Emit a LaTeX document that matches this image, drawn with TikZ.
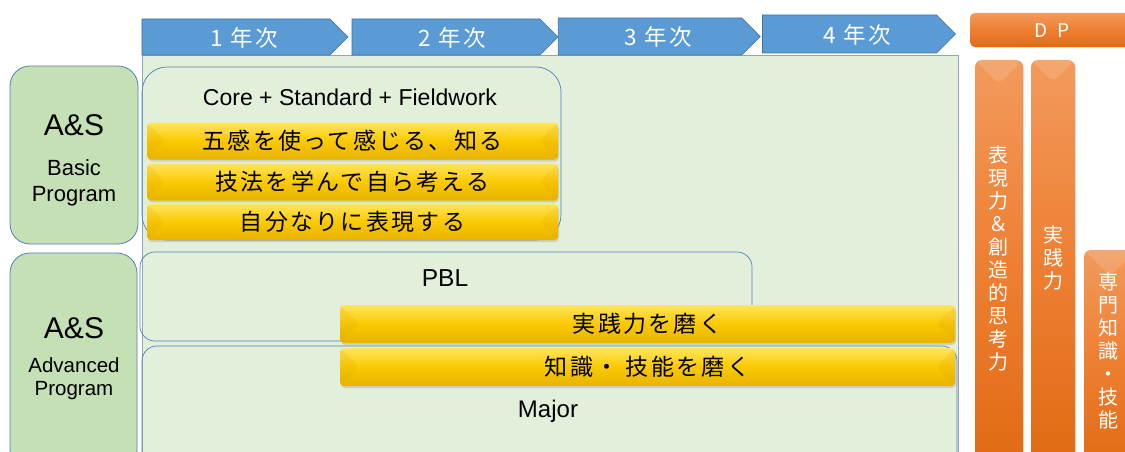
\documentclass[tikz,border=0pt]{standalone}
\usepackage{fontspec}
\setmainfont{Liberation Sans}
\newfontfamily\jp{Noto Sans CJK JP}
\newfontfamily\jpsp{Noto Sans CJK JP}[LetterSpace=10]
\newfontfamily\jpch{Noto Sans CJK JP}[LetterSpace=12]
\newfontfamily\jpwide{Noto Sans CJK JP}[LetterSpace=35]
\usetikzlibrary{shapes.symbols,shadows,calc}
\definecolor{chev}{HTML}{5B9BD5}
\definecolor{chevB}{HTML}{41719C}
\definecolor{bgG}{HTML}{E2EFDA}
\definecolor{bgB}{HTML}{8EA6C4}
\definecolor{lbox}{HTML}{C5E0B4}
\definecolor{lboxB}{HTML}{4F81BD}
\definecolor{yTop}{HTML}{FFE55E}
\definecolor{yMid}{HTML}{FAC900}
\definecolor{yBot}{HTML}{E8B300}
\definecolor{yBev}{HTML}{D99A00}
\definecolor{oTop}{HTML}{F29A5C}
\definecolor{oMid}{HTML}{EE7F32}
\definecolor{oBot}{HTML}{E06A12}
\tikzset{
  chevron/.style={shape=signal, signal to=east, signal from=nowhere, signal pointer angle=90,
    fill=chev, draw=chevB, line width=0.6pt, inner sep=0pt},
  chevtext/.style={text=white, font=\jpch\fontsize{22.5}{26}\selectfont},
  progbox/.style={rectangle, rounded corners=20pt, fill=lbox, draw=lboxB, line width=0.8pt, inner sep=0pt},
  areabox/.style={rectangle, draw=lboxB, line width=0.7pt, inner sep=0pt},
  goldbar/.style={rectangle, rounded corners=4pt, inner sep=0pt,
    top color=yTop, bottom color=yBot, middle color=yMid,
    drop shadow={opacity=0.25, shadow xshift=1pt, shadow yshift=-2pt},
    path picture={
      \fill[yBev, opacity=0.14] let \p1=(path picture bounding box.north west),
        \p2=(path picture bounding box.south east) in
        (\x1,\y1) -- ({\x1+0.5*(\y1-\y2)},{0.5*(\y1+\y2)}) -- (\x1,\y2) -- cycle
        (\x2,\y1) -- ({\x2-0.5*(\y1-\y2)},{0.5*(\y1+\y2)}) -- (\x2,\y2) -- cycle;
    },
    font=\jpsp\fontsize{23}{26}\selectfont, text=black},
  orangebar/.style={rectangle, rounded corners=7pt, inner sep=0pt,
    top color=oTop, bottom color=oBot, middle color=oMid,
    drop shadow={opacity=0.2, shadow xshift=1pt, shadow yshift=-1pt}},
  bevtop/.style={path picture={
      \fill[white, opacity=0.13] let \p1=(path picture bounding box.north west),
        \p2=(path picture bounding box.south east) in
        (\x1,\y1) -- (\x2,\y1) -- ({0.5*(\x1+\x2)},{\y1-0.5*(\x2-\x1)}) -- cycle;
    }},
  vtext/.style={align=center, text=white, font=\jp\fontsize{20}{23}\selectfont},
  lat/.style={font=\fontsize{22}{26}\selectfont, align=center},
}
\begin{document}
\begin{tikzpicture}[x=1pt,y=-1pt]
\useasboundingbox (0,0) rectangle (1125,452);
\clip (0,0) rectangle (1125,452);
\fill[white] (0,0) rectangle (1125,452);
% background area
\node[rectangle, fill=bgG, draw=bgB, line width=0.7pt, minimum width=816pt, minimum height=405pt, inner sep=0pt] (bg) at (550,257.5) {};
% chevrons
\node[chevron, minimum width=206pt, minimum height=36pt] (y1) at (236,37) {};
\node[chevron, minimum width=206pt, minimum height=36pt] (y2) at (446,37) {};
\node[chevron, minimum width=202pt, minimum height=37pt] (y3) at (650,36.5) {};
\node[chevron, minimum width=193pt, minimum height=38pt] (y4) at (849.5,34) {};
\node[chevtext] (y1T) at (244,38) {1 年次};
\node[chevtext] (y2T) at (452,38) {2 年次};
\node[chevtext] (y3T) at (658,37) {3 年次};
\node[chevtext] (y4T) at (857,35) {4 年次};
% DP
\node[orangebar, rounded corners=5pt, minimum width=170pt, minimum height=34pt] (dp) at (1055,30) {};
\node[text=white, font=\jpwide\fontsize{19}{22}\selectfont] (dpT) at (1052,31) {D P};
% left program boxes
\node[progbox, minimum width=128pt, minimum height=178pt] (basic) at (74,155) {};
\node[lat, font=\fontsize{30}{34}\selectfont] (basicT) at (74,125) {A\&S};
\node[lat] (basicS) at (74,183) {Basic\\Program};
\node[progbox, minimum width=127pt, minimum height=217pt] (adv) at (73.5,361.5) {};
\node[lat, font=\fontsize{30}{34}\selectfont] (advT) at (74,328) {A\&S};
\node[lat, font=\fontsize{20.5}{23}\selectfont] (advS) at (74,379) {Advanced\\Program};
% core area
\node[areabox, rounded corners=25pt, minimum width=419pt, minimum height=173pt] (core) at (351.5,153.5) {};
\node[lat, font=\fontsize{23}{27}\selectfont] (coreT) at (350,97) {Core + Standard + Fieldwork};
\node[goldbar, minimum width=411pt, minimum height=37pt] (b1) at (352.5,141) {五感を使って感じる、知る};
\node[goldbar, minimum width=411pt, minimum height=37pt] (b2) at (352.5,182) {技法を学んで自ら考える};
\node[goldbar, minimum width=411pt, minimum height=36pt] (b3) at (352.5,222) {自分なりに表現する};
% PBL and Major
\node[areabox, rounded corners=15pt, minimum width=612pt, minimum height=89pt] (pbl) at (446,296.5) {};
\node[lat, font=\fontsize{24.5}{28}\selectfont] (pblT) at (445,278) {PBL};
\node[areabox, rounded corners=15pt, minimum width=815pt, minimum height=124pt] (major) at (549.5,408) {};
\node[lat, font=\fontsize{24}{28}\selectfont] (majorT) at (548,411) {Major};
\node[goldbar, minimum width=615pt, minimum height=38pt] (b4) at (647.5,324) {実践力を磨く};
\node[goldbar, minimum width=615pt, minimum height=38pt] (b5) at (647.5,367) {知識・ 技能を磨く};
% DP bars
\node[orangebar, bevtop, minimum width=48pt, minimum height=410pt] (o1) at (999,265) {};
\node[vtext] (o1T) at (998,258) {表\\現\\力\\＆\\創\\造\\的\\思\\考\\力};
\node[orangebar, bevtop, minimum width=44pt, minimum height=410pt] (o2) at (1053,265) {};
\node[vtext] (o2T) at (1053,258) {実\\践\\力};
\node[orangebar, bevtop, minimum width=52pt, minimum height=220pt] (o3) at (1110,360) {};
\node[vtext] (o3T) at (1108,351) {専\\門\\知\\識\\・\\技\\能};
\end{tikzpicture}
\end{document}
